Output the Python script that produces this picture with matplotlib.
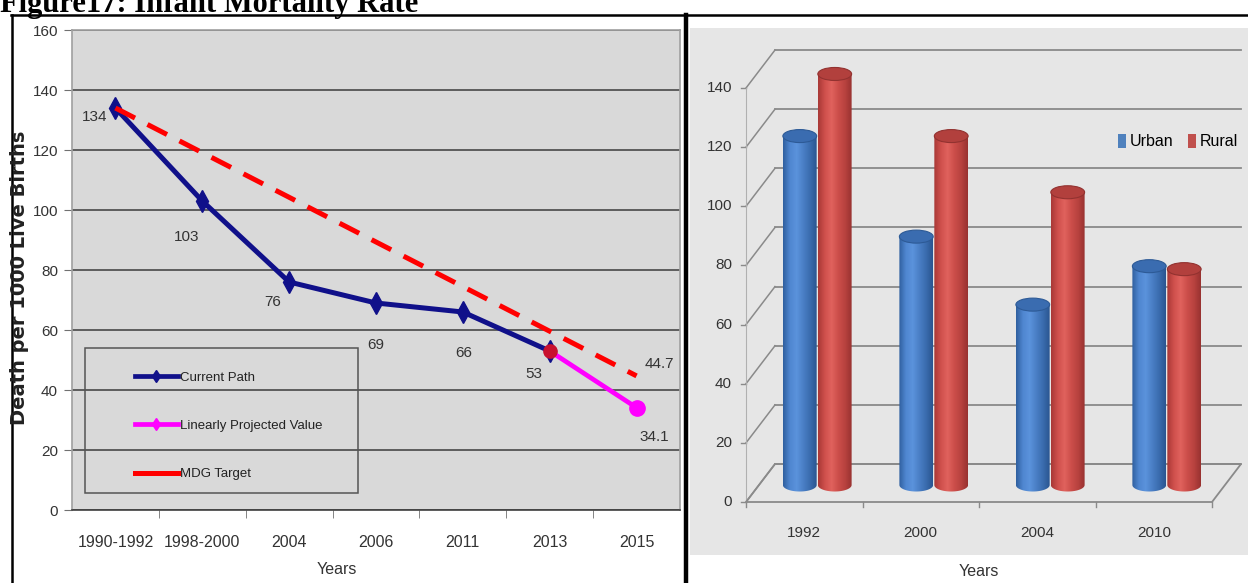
import numpy as np
import matplotlib
matplotlib.use("Agg")
import matplotlib.pyplot as plt
from matplotlib.lines import Line2D
from matplotlib.patches import Rectangle, Ellipse, Polygon, PathPatch, Patch
from matplotlib.path import Path
from matplotlib.colors import LinearSegmentedColormap

# ---- national infant mortality path ----
periods = ["1990-1992", "1998-2000", "2004", "2006", "2011", "2013", "2015"]
current_path = [134, 103, 76, 69, 66, 53]        # 1990-1992 .. 2013
projected = [53, 34.1]                            # 2013 -> 2015
mdg_target = [134, 44.7]                          # 1990-1992 -> 2015
current_labels = ["134", "103", "76", "69", "66", "53"]

# ---- urban / rural comparison ----
survey_years = ["1992", "2000", "2004", "2010"]
urban = [118, 84, 61, 74]
rural = [139, 118, 99, 73]
value_ticks = [0, 20, 40, 60, 80, 100, 120, 140]

SANS = ["Liberation Sans", "DejaVu Sans"]
TXT = "#333333"

W, H = 1248, 583
fig = plt.figure(figsize=(W / 100, H / 100), dpi=100)
fig.patch.set_facecolor("white")


def fx(px):
    return px / W


def fy(py):
    return 1 - py / H


# caption and page frame
fig.text(fx(0), fy(12), "Figure17: Infant Mortality Rate", family="Liberation Serif",
         weight="bold", fontsize=22, ha="left", va="baseline", color="black")
fig.add_artist(Line2D([fx(11), 1], [fy(15), fy(15)], color="black", lw=1.8))
fig.add_artist(Line2D([fx(12), fx(12)], [fy(15), 0], color="black", lw=1.8))
fig.add_artist(Line2D([fx(685.5), fx(685.5)], [fy(15), 0], color="black", lw=3.2))

# =============== left: line chart ===============
ax = fig.add_axes([fx(72), fy(510), (680 - 72) / W, (510 - 30) / H])
ax.set_facecolor("#d9d9d9")
xs = np.arange(len(periods))
ax.set_xlim(-0.5, len(periods) - 0.5)
ax.set_ylim(0, 160)
ax.set_yticks(range(0, 161, 20))
ax.yaxis.grid(True, color="#3c3c3c", lw=1.1)
ax.set_axisbelow(True)
ax.set_xticks(xs)
ax.set_xticklabels(periods)
ax.set_xticks(xs[:-1] + 0.5, minor=True)
ax.tick_params(axis="x", which="major", length=0, pad=18, labelsize=11.5, labelcolor=TXT)
ax.tick_params(axis="x", which="minor", length=6, color="#707070", direction="out")
ax.tick_params(axis="y", length=6, color="#707070", pad=4, labelsize=11, labelcolor=TXT)
for lab in ax.get_xticklabels() + ax.get_yticklabels():
    lab.set_family(SANS)
for side in ("top", "right", "left"):
    ax.spines[side].set_color("#a0a0a0")
    ax.spines[side].set_linewidth(1.2)
ax.spines["bottom"].set_color("#404040")
ax.spines["bottom"].set_linewidth(1.2)

NAVY = "#10108a"
ax.plot(xs[:len(current_path)], current_path, color=NAVY, lw=3.6, marker="d",
        ms=11, mfc=NAVY, mec=NAVY, zorder=3)
ax.plot(xs[-2:], projected, color="#ff00ff", lw=3.4, zorder=3)
ax.plot(xs[-1], projected[-1], marker="o", ms=11, color="#ff00ff", zorder=4)
ax.plot(xs[-2], projected[0], marker="o", ms=9.5, color="#c8102e", zorder=5)
mdg_line, = ax.plot([xs[0], xs[-1]], mdg_target, color="#ff0000", lw=3.6, zorder=4)
mdg_line.set_dashes((4.4, 2.8))

label_offsets = [(-21, -9), (-16, -36), (-16, -20), (0, -42), (1, -41), (-16, -23)]
for xi, yi, txt, off in zip(xs, current_path, current_labels, label_offsets):
    ax.annotate(txt, (xi, yi), xytext=off, textcoords="offset pixels", ha="center",
                va="center", fontsize=11, color=TXT, family=SANS, zorder=6)
ax.annotate(f"{mdg_target[-1]}", (xs[-1], mdg_target[-1]), xytext=(23, 12),
            textcoords="offset pixels", ha="center", va="center", fontsize=11,
            color=TXT, family=SANS)
ax.annotate(f"{projected[-1]}", (xs[-1], projected[-1]), xytext=(18, -29),
            textcoords="offset pixels", ha="center", va="center", fontsize=11,
            color=TXT, family=SANS)

ax.add_patch(Rectangle((0.021, 0.035), 0.449, 0.3025, transform=ax.transAxes,
                       fill=False, ec="#555555", lw=1.1, zorder=6))
handles = [
    Line2D([], [], color=NAVY, lw=3.4, marker="d", ms=6),
    Line2D([], [], color="#ff00ff", lw=3.4, marker="d", ms=6),
    Line2D([], [], color="#ff0000", lw=3.6),
]
leg = ax.legend(handles, ["Current Path", "Linearly Projected Value", "MDG Target"],
                loc="upper left", bbox_to_anchor=(0.092, 0.302), frameon=False,
                borderpad=0, handlelength=3.3, handletextpad=0.15, labelspacing=2.72,
                prop={"family": SANS, "size": 9.5})
for t in leg.get_texts():
    t.set_color("#222222")

fig.text(fx(20), fy(278), "Death per 1000 Live Births", rotation=90, ha="center",
         va="center", fontsize=14, weight="bold", family="DejaVu Sans", color="#222222")
fig.text(fx(337), fy(570), "Years", ha="center", va="center", fontsize=11.5,
         family=SANS, color=TXT)

# =============== right: 3-D style cylinder columns ===============
ax2 = fig.add_axes([fx(690), fy(555), (1248 - 690) / W, (555 - 28) / H])
ax2.set_facecolor("#e6e6e6")
ax2.set_xticks([])
ax2.set_yticks([])
for s in ax2.spines.values():
    s.set_visible(False)

cat_px, val_px = 116.5, 2.957          # pixels per category / per value unit
xlim2 = (-0.5 - (746 - 690) / cat_px, -0.5 + (1248 - 746) / cat_px)
ylim2 = ((502 - 555) / val_px, (502 - 28) / val_px)

n = len(survey_years)
x_front0, x_front1 = -0.5, n - 0.5
dxw, dyw = 29 / cat_px, 38 / val_px    # depth of the back wall
dxb, dyb = 13 / cat_px, 17 / val_px    # depth at which the columns stand
WALL = "#8a8a8a"

# back wall gridlines and side-wall diagonals
for v in value_ticks:
    ax2.plot([x_front0 + dxw, x_front1 + dxw], [v + dyw, v + dyw], color=WALL, lw=1.3, zorder=1)
    ax2.plot([x_front0, x_front0 + dxw], [v, v + dyw], color=WALL, lw=1.1, zorder=1)
    ax2.plot([x_front0 - 0.045, x_front0], [v, v], color=WALL, lw=1.0, zorder=1)
    ax2.text(x_front0 - 0.12, v, str(v), ha="right", va="center", fontsize=11,
             family=SANS, color=TXT)
ax2.plot([x_front0, x_front0], [0, value_ticks[-1]], color="#b0b0b0", lw=0.8, zorder=1)

# floor
ax2.add_patch(Polygon([(x_front0, 0), (x_front1, 0), (x_front1 + dxw, dyw),
                       (x_front0 + dxw, dyw)], closed=True, fc="none", ec=WALL,
                      lw=1.3, zorder=1))
for b in np.arange(n + 1) - 0.5:
    ax2.plot([b, b], [0, -1.8], color=WALL, lw=1.0, zorder=1)

for i, yr in enumerate(survey_years):
    ax2.text(i, -10.5, yr, ha="center", va="center", fontsize=11, family=SANS, color=TXT)

bar_w, bar_off = 0.29, 0.15
cap_h = 4.4
grad = np.linspace(0, 1, 128)[None, :]
series = [
    (urban, -bar_off, LinearSegmentedColormap.from_list(
        "u", ["#2f5f9e", "#4f86d0", "#5b93dc", "#4a7fc6", "#3a6cae", "#2a5590"]),
     "#3a6cb0", "#2d5a96"),
    (rural, bar_off, LinearSegmentedColormap.from_list(
        "r", ["#a83836", "#cf504c", "#e0625d", "#cc4e4a", "#b8423f", "#983230"]),
     "#b2403d", "#923230"),
]
t = np.linspace(np.pi, 2 * np.pi, 40)
for vals, off, cmap, cap_fc, cap_ec in series:
    for i, v in enumerate(vals):
        c = i + dxb + off
        x0, x1 = c - bar_w / 2, c + bar_w / 2
        y0, y1 = dyb, dyb + v
        verts = [(x0, y1), (x0, y0)]
        verts += list(zip(c + bar_w / 2 * np.cos(t), y0 + cap_h / 2 * np.sin(t)))
        verts += [(x1, y1), (x0, y1)]
        clip = PathPatch(Path(verts, closed=True), transform=ax2.transData)
        im = ax2.imshow(grad, cmap=cmap, extent=(x0, x1, y0 - cap_h / 2, y1),
                        aspect="auto", origin="lower", interpolation="bilinear", zorder=3)
        im.set_clip_path(clip)
        ax2.add_patch(Ellipse((c, y1), bar_w, cap_h, fc=cap_fc, ec=cap_ec, lw=0.8, zorder=4))

ax2.set_xlim(*xlim2)
ax2.set_ylim(*ylim2)

ax2.legend([Patch(fc="#4f81bd"), Patch(fc="#c0504d")], ["Urban", "Rural"],
           loc="center left", bbox_to_anchor=(0.752, 0.784), ncol=2, frameon=False,
           handlelength=0.55, handleheight=0.9, handletextpad=0.2, columnspacing=0.9,
           borderpad=0, prop={"family": SANS, "size": 11.5})

fig.text(fx(979), fy(572), "Years", ha="center", va="center", fontsize=11.5,
         family=SANS, color=TXT)

fig.savefig("out.png", dpi=100)
